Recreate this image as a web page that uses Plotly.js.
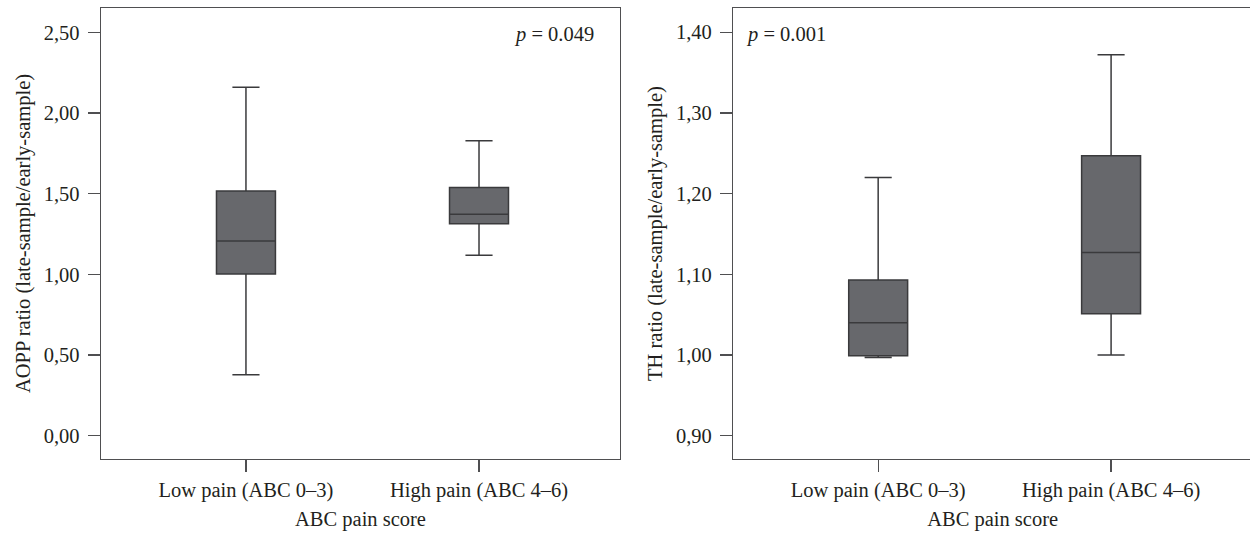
<!DOCTYPE html>
<html>
<head>
<meta charset="utf-8">
<script src="https://cdn.plot.ly/plotly-3.0.1.min.js"></script>
<style>
  html, body { margin: 0; padding: 0; overflow: hidden; background: #fff; }
  #chart { width: 1253px; height: 533px; }
</style>
</head>
<body>
<div id="chart"></div>
<script>
// Categories
const categories = ['Low pain (ABC 0–3)', 'High pain (ABC 4–6)'];

// AOPP ratio (left panel) – box statistics
const aoppLower  = [0.378, 1.118];
const aoppQ1     = [1.002, 1.314];
const aoppMedian = [1.207, 1.372];
const aoppQ3     = [1.516, 1.539];
const aoppUpper  = [2.159, 1.828];

// TH ratio (right panel)
const thLower  = [0.997, 1.000];
const thQ1     = [0.999, 1.051];
const thMedian = [1.040, 1.127];
const thQ3     = [1.093, 1.247];
const thUpper  = [1.220, 1.372];

// Tick values
const aoppTicks = [0, 0.5, 1.0, 1.5, 2.0, 2.5];
const thTicks   = [0.9, 1.0, 1.1, 1.2, 1.3, 1.4];

const pLeft  = '0.049';
const pRight = '0.001';

const W = 1253, H = 533;
const FONT = 'Liberation Serif, Times New Roman, serif';
const TXT = '#231f20';
const LINE = '#4f4f51';
const FS = 20.5;

function boxTrace(xa, ya, lo, q1, med, q3, up) {
  return {
    type: 'box',
    x: categories,
    q1: q1, median: med, q3: q3,
    lowerfence: lo, upperfence: up,
    xaxis: xa, yaxis: ya,
    width: 0.253,
    whiskerwidth: 0.46,
    fillcolor: '#67686c',
    line: { color: '#3a3a3c', width: 1.5 },
    boxpoints: false,
    showlegend: false,
    hoverinfo: 'skip'
  };
}

const data = [
  boxTrace('x', 'y', aoppLower, aoppQ1, aoppMedian, aoppQ3, aoppUpper),
  boxTrace('x2', 'y2', thLower, thQ1, thMedian, thQ3, thUpper)
];

const yTop = 1 - 8.3 / H, yBot = 1 - 458.7 / H;

function xAxis(domain, anchor) {
  return {
    domain: domain,
    anchor: anchor,
    type: 'category',
    range: [-0.622, 1.605],
    showline: true, mirror: true, linecolor: LINE, linewidth: 1.4,
    ticks: 'outside', ticklen: 12, tickcolor: LINE, tickwidth: 1.2,
    showgrid: false, zeroline: false,
    tickfont: { family: FONT, size: FS, color: TXT },
    ticklabelstandoff: 0,
    title: { text: 'ABC pain score', font: { family: FONT, size: FS, color: TXT }, standoff: 11 },
    automargin: false
  };
}

function yAxis(range, ticks, anchor, title) {
  return {
    domain: [yBot, yTop],
    anchor: anchor,
    range: range,
    tickvals: ticks,
    tickformat: '.2f',
    showline: true, mirror: true, linecolor: LINE, linewidth: 1.4,
    ticks: 'outside', ticklen: 12, tickcolor: LINE, tickwidth: 1.2,
    showgrid: false, zeroline: false,
    tickfont: { family: FONT, size: FS, color: TXT },
    ticklabelstandoff: 4,
    title: { text: title, font: { family: FONT, size: FS, color: TXT }, standoff: 7 },
    automargin: false
  };
}

const layout = {
  width: W, height: H,
  margin: { l: 0, r: 0, t: 0, b: 0 },
  paper_bgcolor: '#ffffff',
  plot_bgcolor: '#ffffff',
  separators: ', ',
  font: { family: FONT, size: FS, color: TXT },
  xaxis: xAxis([101 / W, 620 / W], 'y'),
  yaxis: yAxis([-0.1425, 2.649], aoppTicks, 'x', 'AOPP ratio (late-sample/early-sample)'),
  xaxis2: xAxis([733.3 / W, 1252 / W], 'y2'),
  yaxis2: yAxis([0.8715, 1.4297], thTicks, 'x2', 'TH ratio (late-sample/early-sample)'),
  annotations: [
    {
      xref: 'paper', yref: 'paper', x: 596 / W, y: 1 - 34 / H,
      xanchor: 'right', yanchor: 'middle', showarrow: false,
      text: '<i>p</i> = ' + pLeft,
      font: { family: FONT, size: FS, color: TXT }
    },
    {
      xref: 'paper', yref: 'paper', x: 744 / W, y: 1 - 34 / H,
      xanchor: 'left', yanchor: 'middle', showarrow: false,
      text: '<i>p</i> = ' + pRight,
      font: { family: FONT, size: FS, color: TXT }
    }
  ]
};

Plotly.newPlot('chart', data, layout, { displayModeBar: false, staticPlot: true });
</script>
</body>
</html>
